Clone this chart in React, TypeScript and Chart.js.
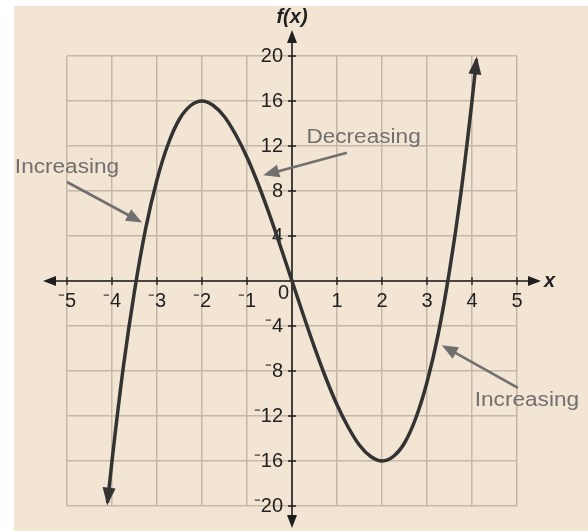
import { useEffect, useRef } from 'react';
import { Chart, registerables } from 'chart.js';

Chart.register(...registerables);

const xValues = [-4.1, -4, -3.75, -3.5, -3.25, -3, -2.75, -2.5, -2.25, -2, -1.75, -1.5, -1.25, -1, -0.75, -0.5, -0.25, 0, 0.25, 0.5, 0.75, 1, 1.25, 1.5, 1.75, 2, 2.25, 2.5, 2.75, 3, 3.25, 3.5, 3.75, 4, 4.1];
const fValues = [-19.7, -16, -7.7, -0.9, 4.7, 9, 12.2, 14.4, 15.6, 16, 15.6, 14.6, 13.0, 11, 8.6, 5.9, 3, 0, -3, -5.9, -8.6, -11, -13.0, -14.6, -15.6, -16, -15.6, -14.4, -12.2, -9, -4.7, 0.9, 7.7, 16, 19.7];

// Axis ranges and tick steps
const xRange = [-5, 5];
const yRange = [-20, 20];
const xStep = 1;
const yStep = 4;

// Callout labels and where their pointers go (data coordinates)
const noteLabels = ['Increasing', 'Decreasing', 'Increasing'];
const noteTextX = [-5.0, 1.59, 5.22];
const noteTextY = [10.1, 12.8, -10.6];
const noteTailX = [-5.0, 1.22, 5.02];
const noteTailY = [8.8, 11.4, -9.5];
const noteTipX = [-3.33, -0.64, 3.33];
const noteTipY = [5.2, 9.4, -5.7];

const FONT = '"Liberation Sans", Arial, sans-serif';
const BEIGE = '#f3e5d3';
const GRID = '#c6b8a8';
const CURVE = '#333333';
const NOTE = '#707070';

const fmtTick = (v: number) => (v === 0 ? '' : v < 0 ? '\u207B' + Math.abs(v) : String(v));

function arrowHead(
  ctx: CanvasRenderingContext2D,
  tipX: number,
  tipY: number,
  fromX: number,
  fromY: number,
  len: number,
  halfW: number,
  color: string
) {
  const a = Math.atan2(tipY - fromY, tipX - fromX);
  const bx = tipX - Math.cos(a) * len;
  const by = tipY - Math.sin(a) * len;
  const nx = -Math.sin(a) * halfW;
  const ny = Math.cos(a) * halfW;
  ctx.beginPath();
  ctx.moveTo(tipX, tipY);
  ctx.lineTo(bx + nx, by + ny);
  ctx.lineTo(bx - nx, by - ny);
  ctx.closePath();
  ctx.fillStyle = color;
  ctx.fill();
}

const backgroundPlugin = {
  id: 'paperBackground',
  beforeDraw(chart: any) {
    const { ctx, width, height } = chart;
    ctx.save();
    ctx.fillStyle = '#ffffff';
    ctx.fillRect(0, 0, width, height);
    ctx.fillStyle = BEIGE;
    ctx.fillRect(14, 6, width - 14, height - 6);
    ctx.restore();
  },
};

const axesPlugin = {
  id: 'arrowAxes',
  beforeDatasetsDraw(chart: any) {
    const { ctx } = chart;
    const xs = chart.scales.x;
    const ys = chart.scales.y;
    const x0 = xs.getPixelForValue(0);
    const y0 = ys.getPixelForValue(0);
    const left = xs.getPixelForValue(xRange[0]) - 24;
    const right = xs.getPixelForValue(xRange[1]) + 24;
    const top = ys.getPixelForValue(yRange[1]) - 26;
    const bottom = ys.getPixelForValue(yRange[0]) + 22;
    ctx.save();
    ctx.strokeStyle = '#1e1e1e';
    ctx.lineWidth = 1.6;
    ctx.beginPath();
    ctx.moveTo(left + 6, y0);
    ctx.lineTo(right - 6, y0);
    ctx.moveTo(x0, top + 6);
    ctx.lineTo(x0, bottom - 6);
    ctx.stroke();
    arrowHead(ctx, left, y0, left + 10, y0, 13, 5, '#1e1e1e');
    arrowHead(ctx, right, y0, right - 10, y0, 13, 5, '#1e1e1e');
    arrowHead(ctx, x0, top, x0, top + 10, 13, 5, '#1e1e1e');
    arrowHead(ctx, x0, bottom, x0, bottom - 10, 13, 5, '#1e1e1e');

    // tick marks crossing each axis
    ctx.lineWidth = 1.3;
    ctx.beginPath();
    xs.ticks.forEach((t: any) => {
      if (t.value === 0) return;
      const px = xs.getPixelForValue(t.value);
      ctx.moveTo(px, y0 - 4);
      ctx.lineTo(px, y0 + 4);
    });
    ys.ticks.forEach((t: any) => {
      if (t.value === 0) return;
      const py = ys.getPixelForValue(t.value);
      ctx.moveTo(x0 - 4, py);
      ctx.lineTo(x0 + 4, py);
    });
    ctx.stroke();

    // origin label and axis titles
    ctx.fillStyle = '#222222';
    ctx.font = `20px ${FONT}`;
    ctx.textAlign = 'right';
    ctx.textBaseline = 'middle';
    ctx.fillText('0', x0 - 3, y0 + 12);
    ctx.font = `italic bold 20px ${FONT}`;
    ctx.textAlign = 'center';
    ctx.fillText('f(x)', x0, top - 13);
    ctx.textAlign = 'left';
    ctx.fillText('x', right + 3, y0);
    ctx.restore();
  },
  afterDatasetsDraw(chart: any) {
    const { ctx } = chart;
    const xs = chart.scales.x;
    const ys = chart.scales.y;
    const pts = chart.getDatasetMeta(0).data;
    ctx.save();
    // arrowheads on both ends of the curve
    const p0 = pts[0];
    const p1 = pts[1];
    const a0 = Math.atan2(p0.y - p1.y, p0.x - p1.x);
    arrowHead(ctx, p0.x + Math.cos(a0) * 3, p0.y + Math.sin(a0) * 3, p0.x, p0.y, 18, 6.5, CURVE);
    const pn = pts[pts.length - 1];
    const pm = pts[pts.length - 2];
    const an = Math.atan2(pn.y - pm.y, pn.x - pm.x);
    arrowHead(ctx, pn.x + Math.cos(an) * 3, pn.y + Math.sin(an) * 3, pn.x, pn.y, 18, 6.5, CURVE);

    // callouts
    ctx.strokeStyle = NOTE;
    ctx.lineWidth = 2.6;
    ctx.font = `20px ${FONT}`;
    ctx.textAlign = 'center';
    ctx.textBaseline = 'middle';
    noteLabels.forEach((label, i) => {
      const tx = xs.getPixelForValue(noteTailX[i]);
      const ty = ys.getPixelForValue(noteTailY[i]);
      const hx = xs.getPixelForValue(noteTipX[i]);
      const hy = ys.getPixelForValue(noteTipY[i]);
      const a = Math.atan2(hy - ty, hx - tx);
      ctx.beginPath();
      ctx.moveTo(tx, ty);
      ctx.lineTo(hx - Math.cos(a) * 10, hy - Math.sin(a) * 10);
      ctx.stroke();
      arrowHead(ctx, hx, hy, tx, ty, 16, 6.5, NOTE);
      const cx = xs.getPixelForValue(noteTextX[i]);
      const cy = ys.getPixelForValue(noteTextY[i]);
      ctx.save();
      ctx.translate(cx, cy);
      ctx.scale(1.13, 1);
      ctx.fillStyle = NOTE;
      ctx.fillText(label, 0, 0);
      ctx.restore();
    });
    ctx.restore();
  },
};

export default function App() {
  const canvasRef = useRef<HTMLCanvasElement | null>(null);

  useEffect(() => {
    const canvas = canvasRef.current;
    if (!canvas) return;
    const chart = new Chart(canvas, {
      type: 'scatter',
      data: {
        datasets: [
          {
            data: xValues.map((x, i) => ({ x, y: fValues[i] })),
            showLine: true,
            borderColor: CURVE,
            borderWidth: 3.5,
            pointRadius: 0,
            cubicInterpolationMode: 'monotone',
            clip: false,
          } as any,
        ],
      },
      options: {
        animation: false,
        responsive: false,
        events: [],
        layout: { padding: { left: 67, right: 71, top: 56, bottom: 25 } },
        plugins: { legend: { display: false }, tooltip: { enabled: false } },
        scales: {
          x: {
            type: 'linear',
            min: xRange[0],
            max: xRange[1],
            position: { y: 0 } as any,
            border: { display: false },
            grid: { color: GRID, lineWidth: 1.5, drawTicks: false },
            ticks: {
              stepSize: xStep,
              autoSkip: false,
              maxRotation: 0,
              padding: 8,
              color: '#222222',
              font: { family: FONT, size: 20 },
              callback: (v: any) => fmtTick(Number(v)),
            },
          },
          y: {
            type: 'linear',
            min: yRange[0],
            max: yRange[1],
            // labels sit just left of the vertical axis
            position: { x: -0.2 } as any,
            border: { display: false },
            grid: { color: GRID, lineWidth: 1.5, drawTicks: false },
            ticks: {
              stepSize: yStep,
              autoSkip: false,
              padding: 0,
              color: '#222222',
              font: { family: FONT, size: 20 },
              callback: (v: any) => fmtTick(Number(v)),
            },
          },
        },
      },
      plugins: [backgroundPlugin, axesPlugin],
    });
    return () => chart.destroy();
  }, []);

  return (
    <div style={{ position: 'fixed', left: 0, top: 0, width: 588, height: 531 }}>
      <canvas ref={canvasRef} width={588} height={531} style={{ display: 'block' }} />
    </div>
  );
}
